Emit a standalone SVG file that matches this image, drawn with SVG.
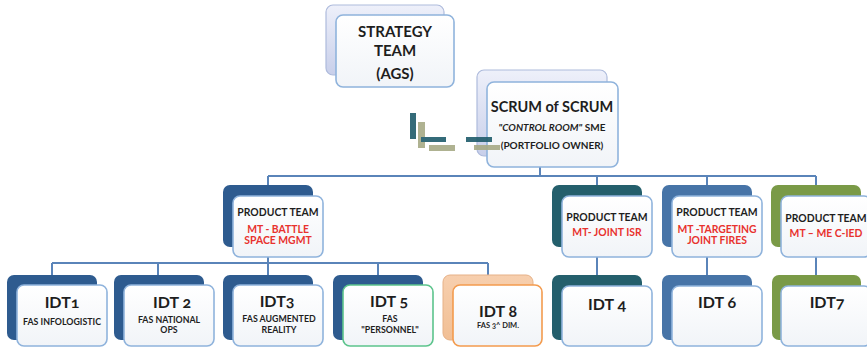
<svg xmlns="http://www.w3.org/2000/svg" width="867" height="348" viewBox="0 0 867 348">
  <defs>
    <linearGradient id="gFront" x1="0" y1="0" x2="0" y2="1">
      <stop offset="0" stop-color="#ffffff"/>
      <stop offset="1" stop-color="#f1f4f8"/>
    </linearGradient>
    <linearGradient id="gLav" x1="0" y1="0" x2="0" y2="1">
      <stop offset="0" stop-color="#eef0fa"/>
      <stop offset="1" stop-color="#c8cfea"/>
    </linearGradient>
    <linearGradient id="gPeach" x1="0" y1="0" x2="0" y2="1">
      <stop offset="0" stop-color="#f7cfae"/>
      <stop offset="1" stop-color="#f1bf95"/>
    </linearGradient>
  </defs>
  <style>
    text { font-family: Lato, "Liberation Sans", Arial, sans-serif; fill: #1e1e1e; text-anchor: middle; font-weight: 700; }
    .front { fill: url(#gFront); stroke: #8fb3dc; stroke-width: 1.6; }
    .lav { fill: url(#gLav); stroke: #aebbdc; stroke-width: 1.2; }
    .navy { fill: #2e5b8f; }
    .teal { fill: #245f6c; }
    .mblue { fill: #4774a7; }
    .olive { fill: #7a9a47; }
    .peach { fill: url(#gPeach); stroke: #e6b187; stroke-width: 1; }
    .red { fill: #e8322e; }
    .idt { font-size: 16px; font-feature-settings: "onum" 1; font-variant-numeric: oldstyle-nums; }
    .sub { font-size: 8.8px; }
    .pt { font-size: 10.4px; }
    .wire { fill: none; stroke: #5a84b9; stroke-width: 2; }
  </style>

  <!-- connectors -->
  <g id="connectors" class="wire">
    <path d="M540 167 V176 M268 176 H816 M268 176 V185 M597 176 V185 M707 176 V185 M816 176 V185"/>
    <path d="M268 257 V263 M52 263 H488 M52 263 V275 M158 263 V275 M268 263 V275 M378 263 V275 M488 263 V275"/>
    <path d="M597 257 V276 M707 257 V276 M816 257 V276"/>
  </g>

  <!-- top level -->
  <g id="strategy-team">
    <rect class="lav" x="326" y="5" width="118" height="70" rx="7"/>
    <rect class="front" x="336" y="15" width="118" height="72" rx="7"/>
    <text x="395" y="37" font-size="15">STRATEGY</text>
    <text x="395" y="56" font-size="15">TEAM</text>
    <text x="395" y="79" font-size="15">(AGS)</text>
  </g>

  <g id="scrum-of-scrum">
    <rect class="lav" x="477" y="70" width="130" height="86" rx="7"/>
    <rect class="front" x="487" y="82" width="131" height="85" rx="7"/>
    <text x="552" y="112" font-size="14.5">SCRUM of SCRUM</text>
    <text x="552" y="131" font-size="10"><tspan font-style="italic">"CONTROL ROOM"</tspan> SME</text>
    <text x="552" y="149" font-size="10">(PORTFOLIO OWNER)</text>
  </g>

  <!-- decorative bars -->
  <g id="bars" opacity="0.9">
    <rect x="410" y="113" width="6" height="26" fill="#1f5c6b"/>
    <rect x="418" y="122" width="7" height="26" fill="#a7aa86"/>
    <rect x="421" y="137" width="25" height="5" fill="#1f5c6b"/>
    <rect x="429" y="145" width="26" height="6" fill="#a7aa86"/>
    <rect x="466" y="137" width="26" height="5" fill="#1f5c6b"/>
    <rect x="474" y="145" width="26" height="5" fill="#a7aa86"/>
  </g>

  <!-- product teams -->
  <g id="pt-battle-space">
    <rect class="navy" x="223" y="185" width="90" height="62" rx="7"/>
    <rect class="front" x="233" y="196" width="90" height="61" rx="7"/>
    <text class="pt" x="278" y="216">PRODUCT TEAM</text>
    <text class="pt red" x="278" y="233">MT - BATTLE</text>
    <text class="pt red" x="278" y="244">SPACE MGMT</text>
  </g>
  <g id="pt-joint-isr">
    <rect class="teal" x="552" y="185" width="90" height="62" rx="7"/>
    <rect class="front" x="562" y="196" width="90" height="61" rx="7"/>
    <text class="pt" x="607" y="221">PRODUCT TEAM</text>
    <text class="pt red" x="607" y="236">MT- JOINT ISR</text>
  </g>
  <g id="pt-targeting">
    <rect class="mblue" x="662" y="185" width="90" height="62" rx="7"/>
    <rect class="front" x="672" y="196" width="90" height="61" rx="7"/>
    <text class="pt" x="717" y="216">PRODUCT TEAM</text>
    <text class="pt red" x="717" y="233">MT -TARGETING</text>
    <text class="pt red" x="717" y="244">JOINT FIRES</text>
  </g>
  <g id="pt-me-cied">
    <rect class="olive" x="771" y="185" width="90" height="62" rx="7"/>
    <rect class="front" x="781" y="196" width="90" height="61" rx="7"/>
    <text class="pt" x="826" y="222">PRODUCT TEAM</text>
    <text class="pt red" x="826" y="237">MT – ME C-IED</text>
  </g>

  <!-- integrated development teams -->
  <g id="idt1">
    <rect class="navy" x="7" y="275" width="90" height="65" rx="7"/>
    <rect class="front" x="17" y="285" width="90" height="61" rx="7"/>
    <text class="idt" x="62" y="308">IDT1</text>
    <text class="sub" x="62" y="325">FAS INFOLOGISTIC</text>
  </g>
  <g id="idt2">
    <rect class="navy" x="114" y="275" width="90" height="65" rx="7"/>
    <rect class="front" x="124" y="285" width="90" height="61" rx="7"/>
    <text class="idt" x="172" y="308">IDT 2</text>
    <text class="sub" x="169" y="323">FAS NATIONAL</text>
    <text class="sub" x="169" y="333">OPS</text>
  </g>
  <g id="idt3">
    <rect class="navy" x="223" y="275" width="90" height="65" rx="7"/>
    <rect class="front" x="233" y="285" width="90" height="61" rx="7"/>
    <text class="idt" x="277" y="307">IDT3</text>
    <text class="sub" x="279" y="322">FAS AUGMENTED</text>
    <text class="sub" x="279" y="333">REALITY</text>
  </g>
  <g id="idt5">
    <rect class="navy" x="333" y="275" width="90" height="65" rx="7"/>
    <rect class="front" x="343" y="285" width="90" height="61" rx="7" style="stroke:#5cc48c"/>
    <text class="idt" x="389" y="307">IDT 5</text>
    <text class="sub" x="390" y="322">FAS</text>
    <text class="sub" x="390" y="333">"PERSONNEL"</text>
  </g>
  <g id="idt8">
    <rect class="peach" x="443" y="275" width="90" height="65" rx="7"/>
    <rect class="front" x="453" y="285" width="89" height="61" rx="7" style="stroke:#f39b4e"/>
    <text class="idt" x="498" y="317">IDT 8</text>
    <text x="498" y="328" font-size="7.5" font-weight="400" style="font-feature-settings:'onum' 1">FAS 3^ DIM.</text>
  </g>
  <g id="idt4">
    <rect class="teal" x="552" y="275" width="90" height="65" rx="7"/>
    <rect class="front" x="562" y="286" width="90" height="60" rx="7"/>
    <text class="idt" x="607" y="310">IDT 4</text>
  </g>
  <g id="idt6">
    <rect class="mblue" x="662" y="275" width="90" height="65" rx="7"/>
    <rect class="front" x="672" y="286" width="90" height="60" rx="7"/>
    <text class="idt" x="717" y="308">IDT 6</text>
  </g>
  <g id="idt7">
    <rect class="olive" x="772" y="275" width="89" height="65" rx="7"/>
    <rect class="front" x="781" y="286" width="90" height="60" rx="7"/>
    <text class="idt" x="827" y="308">IDT7</text>
  </g>
</svg>
